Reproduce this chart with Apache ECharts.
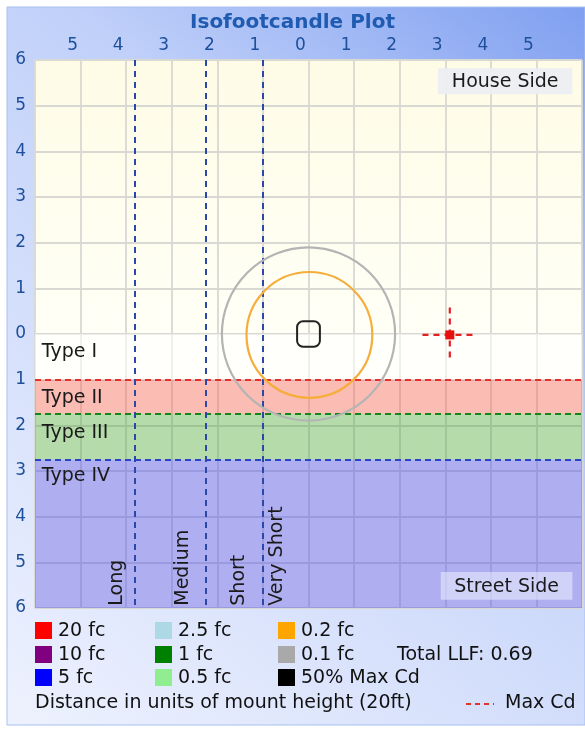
<!DOCTYPE html>
<html>
<head>
<meta charset="utf-8">
<title>Isofootcandle Plot</title>
<script src="https://cdn.jsdelivr.net/npm/echarts@6.0.0/dist/echarts.min.js"></script>
<style>
  html, body { margin: 0; padding: 0; background: #ffffff; }
  #chart { width: 585px; height: 729px; }
</style>
</head>
<body>
<div id="chart"></div>
<script>
// distance ticks, in units of mount height (house side negative, street side positive)
const axisTicks = [-6, -5, -4, -3, -2, -1, 0, 1, 2, 3, 4, 5, 6];

// isofootcandle contours (centre x, centre y, radius)
const contourNames = ['0.2 fc', '0.1 fc'];
const contourCenters = [[0.02, 0.02], [0.0, 0.0]];
const contourRadii = [1.38, 1.9];
const maxCdHalfSize = [0.25, 0.28];
const maxCdPoint = [3.1, 0.02];
const maxCdArm = 0.6;

// distribution types (street side bands) and throw distances
const typeNames = ['Type I', 'Type II', 'Type III', 'Type IV'];
const typeBands = [[0, 1.0], [1.0, 1.75], [1.75, 2.75], [2.75, 6]];
const throwNames = ['Long', 'Medium', 'Short', 'Very Short'];
const throwLines = [-3.82, -2.25, -1.0];

// legend
const legendLabels = ['20 fc', '10 fc', '5 fc', '2.5 fc', '1 fc', '0.5 fc', '0.2 fc', '0.1 fc', '50% Max Cd'];
const legendColors = ['#ff0000', '#800080', '#0000ff', '#add8e6', '#008000', '#90ee90', '#ffa500', '#a9a9a9', '#000000'];
const totalLLF = 0.69;

const chart = echarts.init(document.getElementById('chart'));
const font = 'DejaVu Sans';
const axisBlue = '#1d4f9c';

const bandColors = ['rgba(255,255,255,0.55)', 'rgba(242,95,85,0.42)', 'rgba(70,165,60,0.40)', 'rgba(85,85,235,0.48)'];
const bandLineColors = ['#e53030', '#17861a', '#2a46c0'];
const contourColors = ['#f6ad3c', '#b4b4b4'];

const legendGraphics = [];
legendLabels.forEach((name, i) => {
  const col = Math.floor(i / 3), row = i % 3;
  const x = [35, 155, 278][col], y = [630, 654, 677][row];
  legendGraphics.push({
    type: 'rect', shape: { x: x, y: y - 8, width: 17, height: 17 },
    style: { fill: legendColors[i] }
  });
  legendGraphics.push({
    type: 'text', x: x + 23, y: y + 1,
    style: { text: name, font: '19px ' + font, fill: '#111', verticalAlign: 'middle' }
  });
});

const option = {
  animation: false,
  backgroundColor: '#ffffff',
  title: {
    text: 'Isofootcandle Plot', left: 'center', top: 8,
    textStyle: { fontFamily: font, fontSize: 20, fontWeight: 'bold', color: '#1f5bb0' }
  },
  graphic: [
    {
      type: 'rect', z: -10, shape: { x: 7, y: 7, width: 578, height: 718 },
      style: {
        fill: new echarts.graphic.LinearGradient(1, 0, 0, 1, [
          { offset: 0, color: '#7f9ff0' },
          { offset: 0.35, color: '#c0d0f9' },
          { offset: 1, color: '#eef2fe' }
        ]),
        stroke: '#a9bff0', lineWidth: 1
      }
    },
    ...legendGraphics,
    {
      type: 'text', x: 397, y: 655,
      style: { text: 'Total LLF: ' + totalLLF.toFixed(2), font: '19px ' + font, fill: '#111', verticalAlign: 'middle' }
    },
    {
      type: 'text', x: 35, y: 703,
      style: { text: 'Distance in units of mount height (20ft)', font: '19px ' + font, fill: '#111', verticalAlign: 'middle' }
    },
    {
      type: 'line', shape: { x1: 466, y1: 704, x2: 494, y2: 704 },
      style: { stroke: '#e53030', lineWidth: 2, lineDash: [5, 4] }
    },
    {
      type: 'text', x: 505, y: 703,
      style: { text: 'Max Cd', font: '19px ' + font, fill: '#111', verticalAlign: 'middle' }
    }
  ],
  grid: {
    left: 35, right: 0, top: 60, bottom: 121,
    show: true, borderWidth: 0,
    backgroundColor: new echarts.graphic.LinearGradient(0, 0, 0, 1, [
      { offset: 0, color: '#fefce6' },
      { offset: 0.5, color: '#fffff6' },
      { offset: 1, color: '#fffff6' }
    ])
  },
  xAxis: {
    type: 'value', position: 'top', min: axisTicks[0], max: axisTicks[axisTicks.length - 1], interval: 1,
    axisLine: { show: false }, axisTick: { show: false },
    splitLine: { lineStyle: { color: '#d9d9d3', width: 1.8 } },
    axisLabel: {
      margin: 6, color: axisBlue, fontFamily: font, fontSize: 17, padding: [0, 16, 0, 0],
      formatter: v => (Math.abs(v) === 6 ? '' : String(Math.abs(v)))
    }
  },
  yAxis: {
    type: 'value', inverse: true, min: axisTicks[0], max: axisTicks[axisTicks.length - 1], interval: 1,
    axisLine: { show: false }, axisTick: { show: false },
    splitLine: { lineStyle: { color: '#d9d9d3', width: 1.8 } },
    axisLabel: {
      margin: 9, color: axisBlue, fontFamily: font, fontSize: 17,
      formatter: v => String(Math.abs(v))
    }
  },
  series: [
    {
      // type bands and boundary / throw lines
      type: 'line', data: [], silent: true,
      markArea: {
        silent: true,
        data: typeBands.map((b, i) => [
          { yAxis: b[0], itemStyle: { color: bandColors[i] } },
          { yAxis: b[1] }
        ])
      },
      markLine: {
        silent: true, symbol: 'none', label: { show: false },
        data: typeBands.slice(1).map((b, i) => ({
          yAxis: b[0], lineStyle: { color: bandLineColors[i], type: [6, 4], width: 2 }
        })).concat(throwLines.map(x => ({
          xAxis: x, lineStyle: { color: '#2a48a8', type: [6, 5], width: 2 }
        })))
      }
    },
    {
      // isofootcandle contours
      type: 'custom', silent: true, z: 5,
      data: contourRadii.map((r, i) => [contourCenters[i][0], contourCenters[i][1], r, i]),
      renderItem: function (params, api) {
        const c = api.coord([api.value(0), api.value(1)]);
        const s = api.size([api.value(2), api.value(2)]);
        return {
          type: 'circle',
          shape: { cx: c[0], cy: c[1], r: Math.abs(s[0]) },
          style: { fill: 'none', stroke: contourColors[api.value(3)], lineWidth: 2.2 }
        };
      }
    },
    {
      // 50% max candela outline
      type: 'custom', silent: true, z: 6,
      data: [[0, 0, maxCdHalfSize[0], maxCdHalfSize[1]]],
      renderItem: function (params, api) {
        const c = api.coord([api.value(0), api.value(1)]);
        const s = api.size([api.value(2), api.value(3)]);
        const w = Math.abs(s[0]), h = Math.abs(s[1]);
        return {
          type: 'rect',
          shape: { x: c[0] - w, y: c[1] - h, width: 2 * w, height: 2 * h, r: 6 },
          style: { fill: 'none', stroke: '#222', lineWidth: 2 }
        };
      }
    },
    {
      // max candela location
      type: 'custom', silent: true, z: 7,
      data: [[maxCdPoint[0], maxCdPoint[1], maxCdArm]],
      renderItem: function (params, api) {
        const c = api.coord([api.value(0), api.value(1)]);
        const a = Math.abs(api.size([api.value(2), api.value(2)])[0]);
        const dash = { stroke: '#e52020', lineWidth: 2.2, lineDash: [6, 5] };
        return {
          type: 'group',
          children: [
            { type: 'line', shape: { x1: c[0] - a, y1: c[1], x2: c[0] + a, y2: c[1] }, style: dash },
            { type: 'line', shape: { x1: c[0], y1: c[1] - a, x2: c[0], y2: c[1] + a }, style: dash },
            { type: 'rect', shape: { x: c[0] - 4.5, y: c[1] - 4.5, width: 9, height: 9 }, style: { fill: '#e80f0f' } }
          ]
        };
      }
    },
    {
      // text annotations placed in plot units
      type: 'custom', silent: true, z: 8,
      data: [
        [-5.85, 0.39, 0, 'type'], [-5.85, 1.4, 1, 'type'], [-5.85, 2.17, 2, 'type'], [-5.85, 3.1, 3, 'type'],
        [-4.19, 5.95, 0, 'throw'], [-2.75, 5.95, 1, 'throw'], [-1.53, 5.95, 2, 'throw'], [-0.7, 5.95, 3, 'throw']
      ],
      renderItem: function (params, api) {
        const item = option.series[4].data[params.dataIndex];
        const c = api.coord([item[0], item[1]]);
        if (item[3] === 'type') {
          return {
            type: 'text', x: c[0], y: c[1],
            style: { text: typeNames[item[2]], font: '19px ' + font, fill: '#1a1a1a', verticalAlign: 'middle' }
          };
        }
        return {
          type: 'text', x: c[0], y: c[1], rotation: Math.PI / 2,
          style: { text: throwNames[item[2]], font: '19px ' + font, fill: '#1a1a1a', align: 'left', verticalAlign: 'middle' }
        };
      }
    },
    {
      // side labels
      type: 'custom', silent: true, z: 9,
      data: [[2.84, -5.82, 5.79, -5.25, 'House Side'], [2.9, 5.21, 5.79, 5.82, 'Street Side']],
      renderItem: function (params, api) {
        const item = option.series[5].data[params.dataIndex];
        const p0 = api.coord([item[0], item[1]]);
        const p1 = api.coord([item[2], item[3]]);
        return {
          type: 'group',
          children: [
            {
              type: 'rect',
              shape: { x: p0[0], y: p0[1], width: p1[0] - p0[0], height: p1[1] - p0[1] },
              style: { fill: params.dataIndex === 0 ? 'rgba(236,238,242,0.95)' : 'rgba(236,240,255,0.55)' }
            },
            {
              type: 'text', x: (p0[0] + p1[0]) / 2, y: (p0[1] + p1[1]) / 2 + 1,
              style: { text: item[4], font: '19px ' + font, fill: '#1a1a1a', align: 'center', verticalAlign: 'middle' }
            }
          ]
        };
      }
    }
  ]
};

chart.setOption(option);
</script>
</body>
</html>
